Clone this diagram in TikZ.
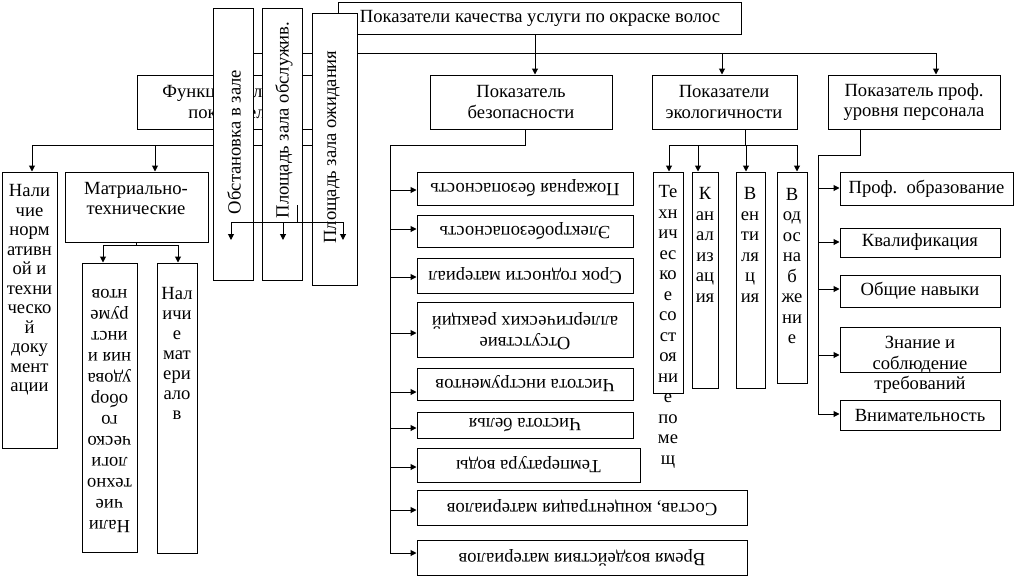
\documentclass[tikz,border=0pt]{standalone}
\usepackage{fontspec}
\setmainfont{Liberation Serif}
\usetikzlibrary{arrows.meta,fit}
\begin{document}
\begin{tikzpicture}[x=1pt,y=-1pt,line width=1pt,
  box/.style={draw,fill=white,inner sep=0pt,line width=1pt},
  txt/.style={inner sep=0pt,align=center,font=\fontsize{18.6}{20.5}\selectfont},
  arr/.style={-{Triangle[length=6pt,width=6pt]}}]
\useasboundingbox (0,0) rectangle (1018,576);
% ---------- right side ----------
\node[box,fit={(430,75) (612,129)}] (bez) {};
\node[txt] (bezt) at (521,102) {Показатель\\безопасности};
\node[box,fit={(652,75) (797,129)}] (eco) {};
\node[txt] (ecot) at (724,102) {Показатели\\экологичности};
\node[box,fit={(828,75) (1000,129)}] (prof) {};
\node[txt] (proft) at (914,102) {Показатель проф.\\ уровня персонала};
% safety children
\node[box,fit={(417,172) (633,205)}] (b1) {};
\node[box,fit={(417,215) (633,247)}] (b2) {};
\node[box,fit={(417,258) (633,293)}] (b3) {};
\node[box,fit={(417,302) (633,357)}] (b4) {};
\node[box,fit={(417,368) (633,400)}] (b5) {};
\node[box,fit={(417,412) (633,438)}] (b6) {};
\node[box,fit={(417,448) (640,482)}] (b7) {};
\node[box,fit={(417,490) (747,525)}] (b8) {};
\node[box,fit={(417,540) (747,575)}] (b9) {};
\node[txt,rotate=180] (b1t) at (b1.center) {Пожарная безопасность};
\node[txt,rotate=180] (b2t) at (b2.center) {Электробезопасность};
\node[txt,rotate=180] (b3t) at (b3.center) {Срок годности материал};
\node[txt,rotate=180] (b4t) at (525,331) {Отсутствие\\аллергических реакций};
\node[txt,rotate=180] (b5t) at (b5.center) {Чистота инструментов};
\node[txt,rotate=180] (b6t) at (b6.center) {Чистота белья};
\node[txt,rotate=180] (b7t) at (b7.center) {Температура воды};
\node[txt,rotate=180] (b8t) at (b8.center) {Состав, концентрация материалов};
\node[txt,rotate=180] (b9t) at (b9.center) {Время воздействия материалов};
\coordinate (bs) at (525,145);
\coordinate (bc) at (390,145);
\coordinate (bend) at (390,553);
\draw (bs |- bez.south) -- (bs) -- (bc) -- (bend);
\foreach \n/\y in {b1/190,b2/229,b3/277,b4/333,b5/392,b6/428,b7/467,b8/510,b9/553}{
  \coordinate (c\n) at (390,\y);
  \draw[arr] (c\n) -- (c\n -| \n.west);}
% ecology children
\node[box,fit={(653,172) (683,393)}] (e1) {};
\node[box,fit={(692,172) (718,388)}] (e2) {};
\node[box,fit={(736,172) (765,388)}] (e3) {};
\node[box,fit={(777,172) (807,383)}] (e4) {};
\node[txt] (e1t) at (668,327) {Те\\хн\\ич\\ес\\ко\\е\\со\\ст\\оя\\ни\\е\\по\\ме\\щ};
\node[txt] (e2t) at (705,245) {К\\ан\\ал\\из\\ац\\ия};
\node[txt] (e3t) at (750,245) {В\\ен\\ти\\ля\\ц\\ия};
\node[txt] (e4t) at (792,266) {В\\од\\ос\\на\\б\\же\\ни\\е};
\coordinate (es) at (745,145);
\coordinate (ea) at (669,145);
\coordinate (eb) at (698,145);
\coordinate (ec) at (746,145);
\coordinate (ed) at (797,145);
\draw (es |- eco.south) -- (es);
\draw (ea) -- (ed);
\draw[arr] (ea) -- (ea |- e1.north);
\draw[arr] (eb) -- (eb |- e2.north);
\draw[arr] (ec) -- (ec |- e3.north);
\draw[arr] (ed) -- (ed |- e4.north);
% prof children
\node[box,fit={(840,172) (1013,205)}] (p1) {};
\node[box,fit={(840,228) (1000,257)}] (p2) {};
\node[box,fit={(840,275) (1000,307)}] (p3) {};
\node[box,fit={(840,327) (1000,372)}] (p4) {};
\node[box,fit={(840,400) (1000,430)}] (p5) {};
\node[txt] (p1t) at (p1.center) {Проф.\ \ образование};
\node[txt] (p2t) at (p2.center) {Квалификация};
\node[txt] (p3t) at (p3.center) {Общие навыки};
\node[txt] (p4t) at (920,365) {Знание и\\соблюдение\\требований};
\node[txt] (p5t) at (p5.center) {Внимательность};
\coordinate (ps) at (860,155);
\coordinate (pc) at (818,155);
\coordinate (pend) at (818,414);
\draw (ps |- prof.south) -- (ps) -- (pc) -- (pend);
\foreach \n/\y in {p1/188,p2/242,p3/289,p4/355,p5/414}{
  \coordinate (c\n) at (818,\y);
  \draw[arr] (c\n) -- (c\n -| \n.west);}
% ---------- left side ----------
\node[box,fit={(2,172) (57,448)}] (nal) {};
\node[txt,font=\fontsize{18.6}{19.5}\selectfont] (nalt0) at (29.5,290) {Нали\\чие\\норм\\ативн\\ой и\\техни\\ческо\\й\\доку\\мент\\ации};
\node[box,fit={(65,172) (208,242)}] (mat) {};
\node[txt,font=\fontsize{18.6}{20}\selectfont] (matt) at (136,198) {Матриально-\\технические};
\node[box,fit={(82,263) (137,552)}] (nalt) {};
\node[txt,rotate=180,font=\fontsize{18.6}{21}\selectfont] (naltt) at (109.5,411) {Нали\\чие\\техно\\логи\\ческо\\го\\обор\\удова\\ния и\\инст\\руме\\нтов};
\node[box,fit={(157,263) (197,553)}] (nalm) {};
\node[txt,font=\fontsize{18.6}{20}\selectfont] (nalmt) at (177,353) {Нал\\ичи\\е\\мат\\ери\\ало\\в};
\coordinate (m1) at (103,245);
\coordinate (m2) at (178,245);
\draw (mat.south) -- (mat.south |- m1);
\draw (m1) -- (m2);
\draw[arr] (m1) -- (m1 |- nalt.north);
\draw[arr] (m2) -- (m2 |- nalm.north);
% functional box (mostly hidden)
\node[box,fit={(137,75) (327,129)}] (func) {};
\node[txt] (funct) at (232,102) {Функциональные\\показатели};
% trunk at y=53
\coordinate (jL) at (240,53);
\coordinate (jt) at (535,53);
\coordinate (jE) at (722,53);
\coordinate (jP) at (936,53);
\draw (jL) -- (jP);
\draw[arr] (jL) -- (jL |- func.north);
\draw[arr] (jt) -- (jt |- bez.north);
\draw[arr] (jE) -- (jE |- eco.north);
\draw[arr] (jP) -- (jP |- prof.north);
% line at y=145
\coordinate (h1) at (32,145);
\coordinate (h2) at (155,145);
\coordinate (hf) at (232,145);
\coordinate (h3) at (330,145);
\draw (h1) -- (h3);
\draw (hf |- func.south) -- (hf);
\draw[arr] (h1) -- (h1 |- nal.north);
\draw[arr] (h2) -- (h2 |- mat.north);
% top box
\node[box,fit={(338,2) (741,34)}] (top) {};
\draw (jt |- top.south) -- (jt);
% vertical boxes
\node[box,fit={(213,8) (253,280)}] (va) {};
\node[box,fit={(262,8) (302,280)}] (vb) {};
\node[box,fit={(312,13) (357,285)}] (vc) {};
\node[txt,rotate=90] (vat) at (234,142) {Обстановка в зале};
\node[txt,rotate=90] (vbt) at (284,120) {Площадь зала обслужив.};
\node[txt,rotate=90] (vct) at (332,147) {Площадь зала ожидания};
\node[txt] (topt) at (540,18) {Показатели качества услуги по окраске волос};
% arrows over vertical boxes
\coordinate (v0) at (297,205);
\coordinate (vj) at (297,222);
\coordinate (vL) at (231,222);
\coordinate (vM) at (283,222);
\coordinate (vR) at (343,222);
\coordinate (vLe) at (231,240);
\coordinate (vMe) at (283,240);
\coordinate (vRe) at (343,240);
\draw (v0) -- (vj);
\draw (vL) -- (vR);
\draw[arr] (vL) -- (vLe);
\draw[arr] (vM) -- (vMe);
\draw[arr] (vR) -- (vRe);
\end{tikzpicture}
\end{document}
